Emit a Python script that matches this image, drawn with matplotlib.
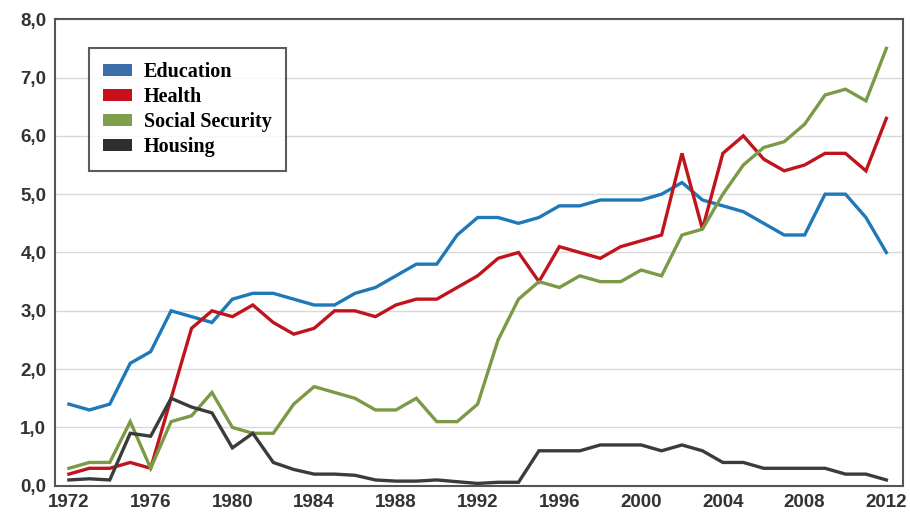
import matplotlib
matplotlib.use('Agg')
import matplotlib.pyplot as plt
from matplotlib.patches import Patch
import numpy as np

years = list(range(1972, 2013))

education = [1.4, 1.3, 1.4, 2.1, 2.3, 3.0, 2.9, 2.8, 3.2, 3.3,
             3.3, 3.2, 3.1, 3.1, 3.3, 3.4, 3.6, 3.8, 3.8, 4.3,
             4.6, 4.6, 4.5, 4.6, 4.8, 4.8, 4.9, 4.9, 4.9, 5.0,
             5.2, 4.9, 4.8, 4.7, 4.5, 4.3, 4.3, 5.0, 5.0, 4.6, 4.0]

health = [0.2, 0.3, 0.3, 0.4, 0.3, 1.5, 2.7, 3.0, 2.9, 3.1,
          2.8, 2.6, 2.7, 3.0, 3.0, 2.9, 3.1, 3.2, 3.2, 3.4,
          3.6, 3.9, 4.0, 3.5, 4.1, 4.0, 3.9, 4.1, 4.2, 4.3,
          5.7, 4.4, 5.7, 6.0, 5.6, 5.4, 5.5, 5.7, 5.7, 5.4, 6.3]

social = [0.3, 0.4, 0.4, 1.1, 0.3, 1.1, 1.2, 1.6, 1.0, 0.9,
          0.9, 1.4, 1.7, 1.6, 1.5, 1.3, 1.3, 1.5, 1.1, 1.1,
          1.4, 2.5, 3.2, 3.5, 3.4, 3.6, 3.5, 3.5, 3.7, 3.6,
          4.3, 4.4, 5.0, 5.5, 5.8, 5.9, 6.2, 6.7, 6.8, 6.6, 7.5]

housing = [0.1, 0.12, 0.1, 0.9, 0.85, 1.5, 1.35, 1.25, 0.65, 0.9,
           0.4, 0.28, 0.2, 0.2, 0.18, 0.1, 0.08, 0.08, 0.1, 0.07,
           0.04, 0.06, 0.06, 0.6, 0.6, 0.6, 0.7, 0.7, 0.7, 0.6,
           0.7, 0.6, 0.4, 0.4, 0.3, 0.3, 0.3, 0.3, 0.2, 0.2, 0.1]

labels = ['Education', 'Health', 'Social Security', 'Housing']
line_colors = ['#1f78b8', '#c0141c', '#7b9a45', '#3b3b3b']
patch_colors = ['#3a6ea8', '#c8101a', '#7f9f4a', '#2e2e2e']

fig = plt.figure(figsize=(9.1, 5.19), dpi=100)
ax = fig.add_axes([0.060, 0.064, 0.932, 0.899])

for vals, c in zip([education, health, social, housing], line_colors):
    ax.plot(years, vals, color=c, linewidth=2.4, solid_joinstyle='miter')

ax.set_xlim(1971.3, 2012.8)
ax.set_ylim(0, 8)
ax.set_xticks(range(1972, 2013, 4))
yt = np.arange(0, 8.1, 1.0)
ax.set_yticks(yt)
ax.set_yticklabels([('%.1f' % v).replace('.', ',') for v in yt])
ax.tick_params(length=0, labelsize=13.5, colors='#333333', pad=6)
for t in ax.get_xticklabels() + ax.get_yticklabels():
    t.set_fontfamily('Liberation Sans')
    t.set_fontweight('bold')
ax.grid(axis='y', color='#d9d9d9', linewidth=1)
ax.set_axisbelow(True)
for s in ax.spines.values():
    s.set_color('#555555')
    s.set_linewidth(1.5)

handles = [Patch(facecolor=c, edgecolor='none') for c in patch_colors]
leg = ax.legend(handles, labels, loc='upper left', bbox_to_anchor=(0.041, 0.938),
                frameon=True, fancybox=False, handlelength=1.4, handleheight=0.55,
                handletextpad=0.6, labelspacing=0.25, borderpad=0.7,
                borderaxespad=0,
                prop={'family': 'Liberation Serif', 'weight': 'bold', 'size': 14.5})
leg.get_frame().set_edgecolor('#333333')
leg.get_frame().set_linewidth(1.5)

fig.savefig('out.png', dpi=100)
